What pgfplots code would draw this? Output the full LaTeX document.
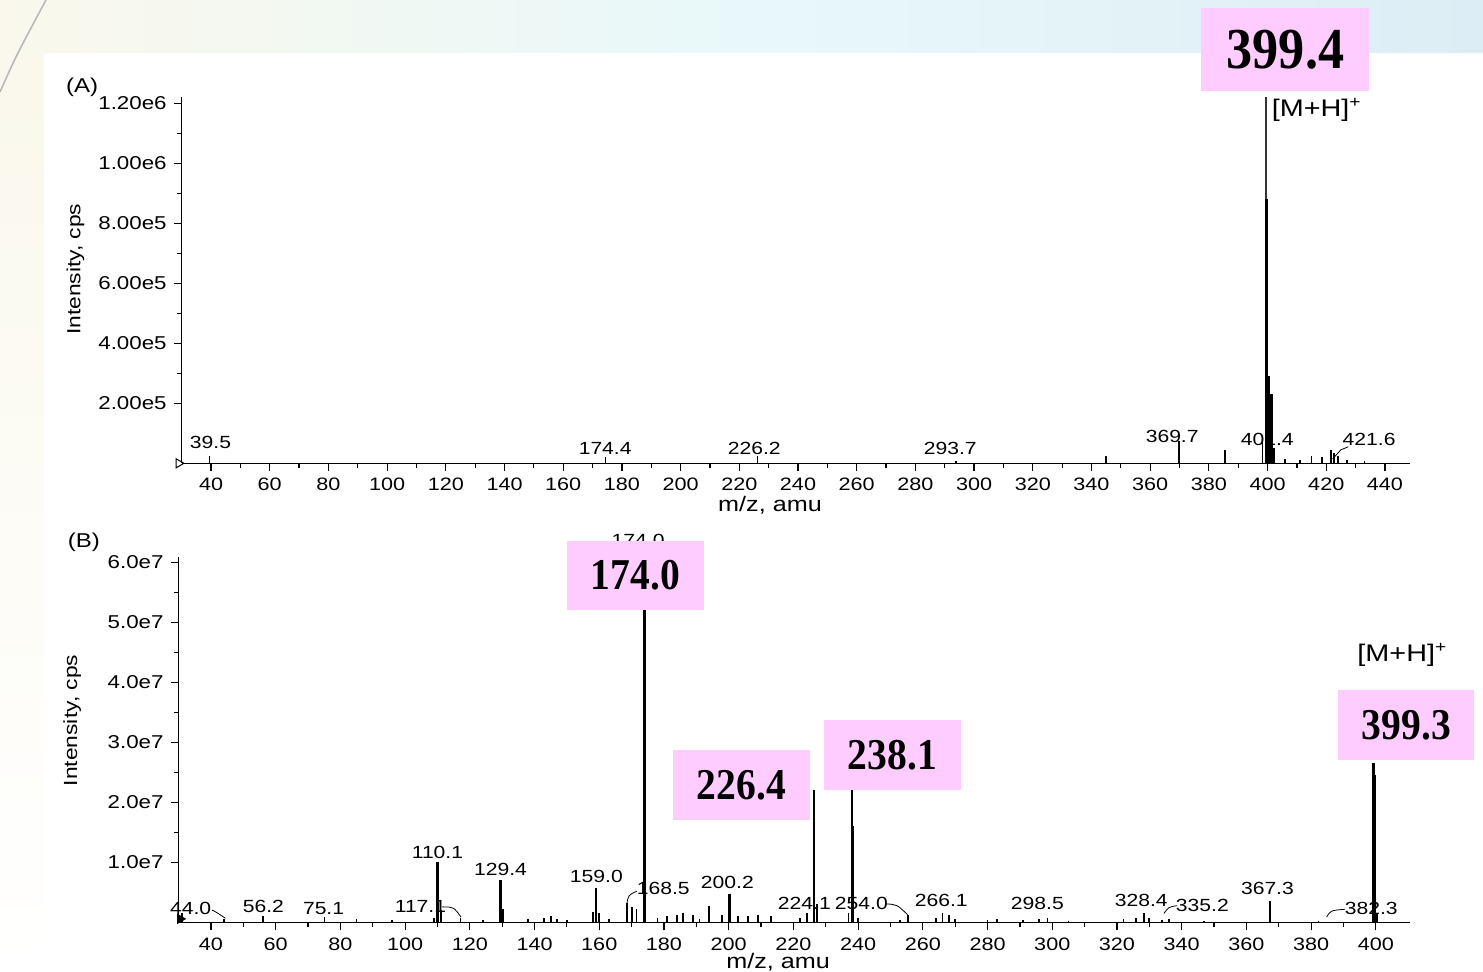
\documentclass[border=0pt]{standalone}
\usepackage{fontspec}
\setmainfont{Liberation Sans}[FakeStretch=1.2]
\newfontfamily\boxfont{Liberation Serif}[FakeStretch=0.9]
\usepackage{pgfplots}
\pgfplotsset{compat=1.18}

\definecolor{pinkbox}{RGB}{255,204,255}
\definecolor{bandA}{RGB}{250,248,236}
\definecolor{bandB}{RGB}{232,248,250}
\definecolor{bandC}{RGB}{221,237,245}

\tikzset{
  pk/.style={font=\fontsize{8.8}{10}\selectfont, inner sep=0pt},
  bx/.style={fill=pinkbox, inner sep=0pt},
}
\pgfplotsset{
  spec/.style={
    scale only axis,
    axis lines=left,
    axis line style={-, line width=0.7pt},
    tick style={black, line width=0.6pt},
    major tick length=4pt,
    minor tick length=2.5pt,
    tick align=outside,
    minor x tick num=1,
    minor y tick num=1,
    clip=false,
    scaled y ticks=false,
    /pgf/number format/assume math mode=true,
    xticklabel style={font=\fontsize{9}{10}\selectfont},
    yticklabel style={font=\fontsize{9.3}{10}\selectfont},
    xlabel={m/z, amu},
    ylabel={Intensity, cps},
    xlabel style={font=\fontsize{10.5}{12}\selectfont},
    ylabel style={font=\fontsize{9.5}{11}\selectfont},
    ymin=0,
  },
}

\begin{document}
\begin{tikzpicture}
% slide background
\fill[white] (0,0) rectangle (741.5pt,486pt);
\useasboundingbox (0,0) rectangle (741.5pt,486pt);
\shade[left color=bandA, right color=bandC, middle color=bandB] (0,459.5pt) rectangle (741.5pt,486pt);
\shade[top color=bandA, bottom color=white] (0,0) rectangle (22pt,459.5pt);
\draw[gray!55, line width=0.8pt] (0pt,440pt) .. controls (8pt,458pt) .. (23pt,486pt);

% ---------------- (A) ----------------
\begin{axis}[spec,
  at={(90.85pt,254.35pt)}, anchor=south west,
  width=614.1pt, height=183pt,
  xmin=30, xmax=448.5, ymax=1.22e6,
  xtick={40,60,...,440},
  ytick={2e5,4e5,6e5,8e5,1e6,1.2e6},
  yticklabels={2.00e5,4.00e5,6.00e5,8.00e5,1.00e6,1.20e6},
  xlabel style={at={(axis description cs:0.479,-0.115)}, anchor=center},
  ylabel style={at={(axis description cs:-0.0865,0.53)}, anchor=center},
]
\addplot[ycomb, black, line width=0.9pt, mark=none] coordinates {
  (39.5,2.5e4) (174.4,2.2e4) (226.2,2.4e4) (293.7,8e3) (345,2.5e4)
  (369.7,7.5e4) (385.5,4.5e4) (398.3,7.5e4) (402.3,5e4) (406,1.5e4)
  (411,1.2e4) (415,2.5e4) (418.5,2e4) (421.6,4.5e4) (422.6,3.5e4)
  (424,2.5e4) (427,1e4) (433,8e3)
};
\addplot[ycomb, black!80, line width=0.8pt, mark=none] coordinates {(399.4,1.22e6)};
\addplot[ycomb, black, line width=1.6pt, mark=none] coordinates {
  (399.6,8.8e5) (400.4,2.9e5) (401.4,2.3e5)
};
\addplot[only marks, mark=triangle, mark options={rotate=-90, scale=1.3, black, line width=0.5pt}] coordinates {(29,0)};

\node[pk] at (axis cs:39.8,6.8e4) {39.5};
\node[pk] at (axis cs:174.3,5.1e4) {174.4};
\node[pk] at (axis cs:225.1,5.1e4) {226.2};
\node[pk] at (axis cs:291.9,5.1e4) {293.7};
\node[pk] at (axis cs:367.5,8.8e4) {369.7};
\node[pk] at (axis cs:399.9,8.1e4) {401.4};
\node[pk] at (axis cs:434.6,8.1e4) {421.6};
\draw[black, line width=0.4pt] (axis cs:422.2,1.5e4) -- (axis cs:425,4.5e4) -- (axis cs:427.5,5.5e4);
\node[pk, anchor=west, font=\fontsize{12}{13}\selectfont] at (axis cs:401.3,1.178e6) {[M+H]\textsuperscript{+}};
\node[font=\fontsize{10}{11}\selectfont] at (axis description cs:-0.081,1.026) {(A)};
\node[bx, minimum width=84pt, minimum height=41.5pt, font=\boxfont\bfseries\fontsize{29}{30}\selectfont] at (axis cs:406.1,1.378e6) {399.4};
\end{axis}

% ---------------- (B) ----------------
\begin{axis}[spec,
  at={(89.3pt,24.75pt)}, anchor=south west,
  width=615.6pt, height=183pt,
  xmin=30, xmax=410.5, ymax=6.1e7,
  xtick={40,60,...,400},
  ytick={1e7,2e7,3e7,4e7,5e7,6e7},
  yticklabels={1.0e7,2.0e7,3.0e7,4.0e7,5.0e7,6.0e7},
  xlabel style={at={(axis description cs:0.487,-0.108)}, anchor=center},
  ylabel style={at={(axis description cs:-0.0865,0.552)}, anchor=center},
]
\addplot[ycomb, black, line width=0.9pt, mark=none] coordinates {
  (31,1.5e6) (44.0,0.6e6) (56.2,1.0e6) (75.1,0.9e6) (85,0.5e6) (96,0.4e6)
  (109,0.8e6) (111,2.0e6) (117.1,0.8e6) (124,0.4e6) (130.2,2.3e6)
  (138,0.5e6) (143,0.8e6) (145,1.0e6) (147,0.6e6) (150,0.4e6)
  (158,1.8e6) (160,1.5e6) (163,0.5e6) (168.5,3.2e6) (170,2.5e6) (171.5,2.3e6)
  (178,0.8e6) (181,1.0e6) (184,1.3e6) (186,1.5e6) (189,1.2e6) (191,0.5e6)
  (194,2.8e6) (198,1.2e6) (203,1.0e6) (206,1.0e6) (209,1.2e6) (213,1.1e6)
  (222,0.8e6) (224.1,1.5e6) (227.2,3.0e6) (237,1.5e6) (240,0.8e6)
  (253,0.4e6) (255.5,1.2e6) (264,0.8e6) (266.1,1.6e6) (268,1.2e6) (270,0.6e6)
  (280,0.4e6) (283,0.5e6) (291,0.4e6) (296,0.6e6) (298.5,0.8e6) (305,0.3e6)
  (322,0.5e6) (326,0.8e6) (328.4,1.6e6) (330,0.8e6) (334,0.4e6) (336,0.6e6)
  (347,0.3e6) (382.3,0.3e6) (400.3,1.5e6)
};
\addplot[ycomb, black, line width=1.3pt, mark=none] coordinates {
  (110.1,1.0e7) (129.4,7.0e6) (159.0,5.7e6) (200.2,4.8e6) (367.3,3.6e6)
  (174.0,6.0e7) (226.4,2.2e7) (238.1,2.4e7) (399.3,2.65e7)
};
\addplot[ycomb, black, line width=1.8pt, mark=none] coordinates {
  (238.3,1.6e7) (399.5,2.45e7)
};
\addplot[only marks, mark=triangle*, mark options={rotate=-90, scale=1.3, black}] coordinates {(30.5,0.6e6)};

\node[pk] at (axis cs:172,6.36e7) {174.0};
\node[pk] at (axis cs:33.7,2.4e6) {44.0};
\draw[black, line width=0.4pt] (axis cs:40.3,2.1e6) .. controls (axis cs:42,1.6e6) .. (axis cs:44.5,0.7e6);
\node[pk] at (axis cs:56.2,2.75e6) {56.2};
\node[pk] at (axis cs:74.8,2.4e6) {75.1};
\node[pk, anchor=west] at (axis cs:96.7,2.75e6) {117.1};
\draw[black, line width=0.4pt] (axis cs:111.5,2.6e6) .. controls (axis cs:115,2.6e6) .. (axis cs:117.3,0.9e6);
\node[pk] at (axis cs:110.0,1.175e7) {110.1};
\node[pk] at (axis cs:129.5,8.9e6) {129.4};
\node[pk] at (axis cs:159.1,7.75e6) {159.0};
\node[pk, anchor=west] at (axis cs:171.5,5.75e6) {168.5};
\draw[black, line width=0.4pt] (axis cs:168.5,3.0e6) .. controls (axis cs:169,4.6e6) .. (axis cs:171.6,5.2e6);
\node[pk] at (axis cs:199.6,6.6e6) {200.2};
\node[pk] at (axis cs:223.4,3.25e6) {224.1};
\node[pk] at (axis cs:241.0,3.25e6) {254.0};
\draw[black, line width=0.4pt] (axis cs:248.6,3.1e6) .. controls (axis cs:252,3.0e6) .. (axis cs:255.3,1.3e6);
\node[pk] at (axis cs:265.7,3.6e6) {266.1};
\node[pk] at (axis cs:295.4,3.1e6) {298.5};
\node[pk] at (axis cs:327.5,3.6e6) {328.4};
\node[pk] at (axis cs:346.4,2.9e6) {335.2};
\draw[black, line width=0.4pt] (axis cs:334.5,1.5e6) .. controls (axis cs:336,2.6e6) .. (axis cs:338.6,2.8e6);
\node[pk] at (axis cs:366.5,5.75e6) {367.3};
\node[pk] at (axis cs:398.6,2.3e6) {382.3};
\draw[black, line width=0.4pt] (axis cs:384.8,0.9e6) .. controls (axis cs:386,2.0e6) .. (axis cs:390.4,2.2e6);
\node[pk, font=\fontsize{12}{13}\selectfont] at (axis cs:408.2,4.46e7) {[M+H]\textsuperscript{+}};
\node[font=\fontsize{10}{11}\selectfont] at (axis description cs:-0.077,1.04) {(B)};

\node[bx, minimum width=68.5pt, minimum height=34.5pt, font=\boxfont\bfseries\fontsize{22}{24}\selectfont] at (axis cs:171.2,5.79e7) {174.0};
\node[bx, minimum width=68.5pt, minimum height=35pt, font=\boxfont\bfseries\fontsize{22}{24}\selectfont] at (axis cs:203.9,2.29e7) {226.4};
\node[bx, minimum width=68.5pt, minimum height=35pt, font=\boxfont\bfseries\fontsize{22}{24}\selectfont] at (axis cs:250.6,2.79e7) {238.1};
\node[bx, minimum width=68pt, minimum height=35pt, font=\boxfont\bfseries\fontsize{22}{24}\selectfont] at (axis cs:409.4,3.29e7) {399.3};
\end{axis}
\end{tikzpicture}
\end{document}
